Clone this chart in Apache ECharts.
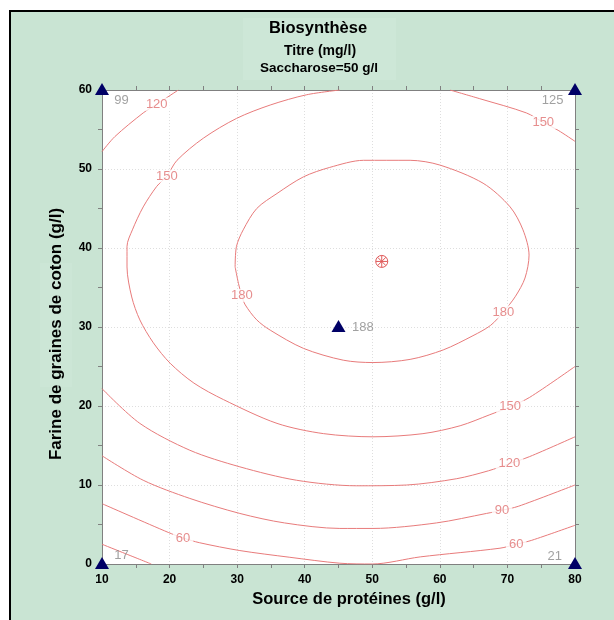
<!DOCTYPE html>
<html>
<head>
<meta charset="utf-8">
<script src="https://cdn.jsdelivr.net/npm/echarts@6/dist/echarts.min.js"></script>
<style>
html,body{margin:0;padding:0;background:#fff;}
#chart{width:614px;height:620px;}
</style>
</head>
<body>
<div id="chart"></div>
<script>
// ---- Data ----
const titleText = 'Biosynthèse';
const subtitle1 = 'Titre (mg/l)';
const subtitle2 = 'Saccharose=50 g/l';
const xAxisName = 'Source de protéines (g/l)';
const yAxisName = 'Farine de graines de coton (g/l)';
const xRange = [10, 80];
const yRange = [0, 60];

// contour lines (x = protein source, y = cotton seed flour)
const c180 = [[29.7,37.6],[29.9,40.2],[30.9,42.3],[32.9,45.0],[35.9,46.9],[39.8,49.0],[43.7,50.2],[48.7,51.1],[55.6,51.1],[60.0,50.5],[66.4,48.2],[70.4,45.2],[72.3,42.3],[73.2,39.1],[72.6,36.2],[71.2,33.9],[69.4,31.9],[67.5,30.2],[64.9,28.9],[60.5,27.1],[55.6,25.9],[50.1,25.5],[45.7,25.8],[39.8,27.3],[34.9,29.6],[32.9,30.9],[31.2,32.8],[30.7,33.9],[30.2,35.5],[29.7,37.6]];
const c150a = [[45.2,60.0],[40.3,59.4],[34.9,58.1],[29.9,56.4],[25.0,53.9],[21.1,51.1],[19.6,49.1],[18.1,47.8],[16.1,45.2],[14.5,42.3],[13.7,40.2],[13.7,37.6],[14.4,33.8],[15.6,30.9],[17.6,28.0],[20.1,25.4],[23.6,22.9],[28.0,20.8],[35.9,17.8],[42.8,16.5],[50.1,16.1],[57.5,16.5],[63.0,17.5],[67.4,18.9],[70.4,19.9],[73.3,21.1],[80.0,25.0]];
const c150b = [[61.5,60.0],[65.9,58.9],[72.8,57.1],[75.3,55.9],[77.5,54.9],[80.0,53.5]];
const c120a = [[10.0,52.2],[11.9,54.1],[16.1,57.1],[18.1,58.2],[21.3,60.0]];
const c120b = [[10.0,22.2],[15.6,17.8],[23.0,14.4],[30.4,12.3],[38.8,10.6],[47.7,9.9],[55.1,10.0],[62.5,10.8],[67.2,11.8],[70.3,12.7],[73.3,13.6],[80.0,16.1]];
const c90 = [[10.0,13.7],[16.1,10.6],[23.0,8.3],[30.4,6.4],[37.0,5.2],[45.2,4.5],[50.1,4.5],[59.5,5.2],[66.9,6.4],[69.2,6.8],[71.6,7.3],[80.0,10.0]];
const c60 = [[10.1,7.6],[19.8,4.0],[22.0,3.3],[24.4,2.7],[30.4,1.7],[37.8,0.85],[45.2,0.1],[50.0,0.0],[57.1,0.9],[68.9,2.0],[71.3,2.5],[73.6,3.0],[80.0,4.9]];
const c30 = [[10.0,2.5],[13.5,1.3],[17.3,0.0]];

// contour label positions and texts
const contourLabelPos = [[18.1,58.2],[19.6,49.1],[30.7,34.0],[69.4,31.9],[75.3,55.9],[70.4,19.9],[70.3,12.7],[69.2,6.8],[71.3,2.5],[22.0,3.3]];
const contourLabelText = ['120','150','180','180','150','150','120','90','60','60'];

// design points (triangles) and their observed values
const designPoints = [[10,60],[80,60],[10,0],[80,0],[45,30]];
const obsLabelPos = [[12.9,58.7],[76.7,58.7],[12.9,1.1],[77.0,1.0],[48.6,30.0]];
const obsLabelText = ['99','125','17','21','188'];

// optimum
const optimum = [[51.4,38.3]];

// ---- Chart ----
const lineColor = '#e87b7b';
const labelRed = '#e07272';
const contours = [c180, c150a, c150b, c120a, c120b, c90, c60, c30];
const FONT = '"Liberation Sans", Arial, sans-serif';

const chart = echarts.init(document.getElementById('chart'), null, {renderer:'canvas'});

const axisBase = {
  type:'value', min:xRange[0], max:xRange[1], interval:10,
  axisLine:{show:true, onZero:false, lineStyle:{color:'#808080', width:1}},
  axisTick:{show:true, inside:false, length:4, lineStyle:{color:'#808080'}},
  minorTick:{show:true, splitNumber:2, length:4, lineStyle:{color:'#808080'}},
  splitLine:{show:false}
};

const series = [];
contours.forEach(c => {
  series.push({
    type:'line', data:c, smooth:0.3, symbol:'none', clip:true,
    lineStyle:{color:lineColor, width:1}, silent:true, z:2
  });
});
series.push({
  type:'scatter', symbolSize:0, z:5, silent:true,
  data: contourLabelPos.map((p,i)=>[p[0],p[1],contourLabelText[i]]),
  label:{show:true, position:'inside', formatter:p=>p.value[2], color:labelRed,
    fontFamily:FONT, fontSize:13, backgroundColor:'#fff', padding:[0,3]}
});
series.push({
  type:'scatter', symbolSize:0, z:5, silent:true,
  data: obsLabelPos.map((p,i)=>[p[0],p[1],obsLabelText[i]]),
  label:{show:true, position:'inside', formatter:p=>p.value[2], color:'#8a8a8a',
    fontFamily:FONT, fontSize:13}
});
series.push({
  type:'scatter', data:optimum, z:6, silent:true,
  symbol:'path://M5,0A5,5 0 1 1 4.99,0ZM5,0L5,10M0,5L10,5M1.5,1.5L8.5,8.5M8.5,1.5L1.5,8.5',
  symbolSize:12,
  itemStyle:{color:'rgba(0,0,0,0)', borderColor:'#e05a5a', borderWidth:1, opacity:1}
});
series.push({
  type:'scatter', data:designPoints, z:7, silent:true,
  symbol:'triangle', symbolSize:[14,12], symbolOffset:[0,-1],
  itemStyle:{color:'#000066', opacity:1}
});

const option = {
  backgroundColor:'#ffffff',
  animation:false,
  graphic:[
    {type:'rect', z:-10, shape:{x:10, y:11, width:620, height:620},
      style:{fill:'#c9e4d3', stroke:'#000', lineWidth:2}},
    {type:'rect', z:-9, shape:{x:243, y:18, width:153, height:62},
      style:{fill:'#cde7d7'}},
    {type:'rect', z:-9, shape:{x:40, y:263, width:32, height:124},
      style:{fill:'#cce6d6'}},
    {type:'text', z:10, x:318, y:28.5, style:{text:titleText, textAlign:'center', textVerticalAlign:'middle',
      font:'bold 16.5px ' + FONT, fill:'#000'}},
    {type:'text', z:10, x:320, y:51.5, style:{text:subtitle1, textAlign:'center', textVerticalAlign:'middle',
      font:'bold 14px ' + FONT, fill:'#000'}},
    {type:'text', z:10, x:319, y:68.3, style:{text:subtitle2, textAlign:'center', textVerticalAlign:'middle',
      font:'bold 13.5px ' + FONT, fill:'#000'}},
    {type:'text', z:10, x:349, y:599, style:{text:xAxisName, textAlign:'center', textVerticalAlign:'middle',
      font:'bold 16.5px ' + FONT, fill:'#000'}},
    {type:'text', z:10, x:56, y:334, rotation:Math.PI/2, style:{text:yAxisName, textAlign:'center', textVerticalAlign:'middle',
      font:'bold 17px ' + FONT, fill:'#000'}}
  ],
  grid:{left:102, top:90, width:473, height:474, show:true, backgroundColor:'#fff', borderWidth:0, containLabel:false},
  xAxis:[
    Object.assign({}, axisBase, {position:'bottom',
      axisLabel:{show:true, margin:10, color:'#000', fontWeight:'bold', fontSize:12, fontFamily:FONT},
      splitLine:{show:true, lineStyle:{color:'#dedede', type:[1,2], width:1}}}),
    Object.assign({}, axisBase, {position:'top', axisLabel:{show:false}})
  ],
  yAxis:[
    Object.assign({}, axisBase, {min:yRange[0], max:yRange[1], position:'left',
      axisLabel:{show:true, margin:10, color:'#000', fontWeight:'bold', fontSize:12, fontFamily:FONT},
      splitLine:{show:true, lineStyle:{color:'#dedede', type:[1,2], width:1}}}),
    Object.assign({}, axisBase, {min:yRange[0], max:yRange[1], position:'right', axisLabel:{show:false}})
  ],
  series: series
};
chart.setOption(option);
</script>
</body>
</html>
